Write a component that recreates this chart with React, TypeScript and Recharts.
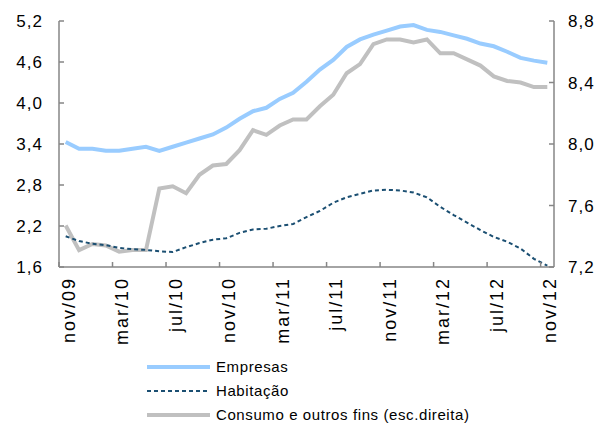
import { LineChart, Line, XAxis, YAxis } from 'recharts';

const months = [
  'nov/09', 'dez/09', 'jan/10', 'fev/10', 'mar/10', 'abr/10', 'mai/10', 'jun/10', 'jul/10', 'ago/10', 'set/10', 'out/10',
  'nov/10', 'dez/10', 'jan/11', 'fev/11', 'mar/11', 'abr/11', 'mai/11', 'jun/11', 'jul/11', 'ago/11', 'set/11', 'out/11',
  'nov/11', 'dez/11', 'jan/12', 'fev/12', 'mar/12', 'abr/12', 'mai/12', 'jun/12', 'jul/12', 'ago/12', 'set/12', 'out/12',
  'nov/12',
];

const empresas = [
  3.43, 3.33, 3.33, 3.3, 3.3, 3.33, 3.36, 3.3, 3.36, 3.42, 3.48, 3.54,
  3.64, 3.77, 3.88, 3.93, 4.06, 4.15, 4.31, 4.49, 4.63, 4.82, 4.93, 5.0,
  5.06, 5.12, 5.14, 5.07, 5.04, 4.99, 4.94, 4.87, 4.83, 4.75, 4.66, 4.62,
  4.59,
];

const habitacao = [
  2.05, 1.98, 1.94, 1.92, 1.88, 1.86, 1.85, 1.83, 1.82, 1.89, 1.95, 2.0,
  2.02, 2.1, 2.15, 2.16, 2.2, 2.23, 2.33, 2.42, 2.54, 2.62, 2.67, 2.72,
  2.73, 2.72, 2.69, 2.62, 2.48, 2.36, 2.25, 2.14, 2.04, 1.97, 1.87, 1.72,
  1.62,
];

// escala direita
const consumo = [
  7.47, 7.31, 7.35, 7.34, 7.3, 7.31, 7.31, 7.71, 7.725, 7.68, 7.8, 7.86,
  7.87, 7.96, 8.09, 8.06, 8.12, 8.16, 8.16, 8.245, 8.32, 8.46, 8.52, 8.65,
  8.68, 8.68, 8.66, 8.68, 8.59, 8.59, 8.55, 8.51, 8.44, 8.41, 8.4, 8.37,
  8.37,
];

const leftTicks = [1.6, 2.2, 2.8, 3.4, 4.0, 4.6, 5.2];
const rightTicks = [7.2, 7.6, 8.0, 8.4, 8.8];

const data = months.map((m, i) => ({
  month: m,
  empresas: empresas[i],
  habitacao: habitacao[i],
  consumo: consumo[i],
}));

const W = 600;
const H = 423;
const PLOT_LEFT = 59;
const PLOT_RIGHT = 554;
const PLOT_TOP = 21;
const PLOT_BOTTOM = 267;
const BAND = (PLOT_RIGHT - PLOT_LEFT) / months.length;

const AXIS_COLOR = '#868686';
const FONT = '"Liberation Sans", Arial, sans-serif';

const fmt = (v: number) => v.toFixed(1).replace('.', ',');

const LeftTick = (props: any) => {
  const { payload } = props;
  const y = payload.coordinate;
  return (
    <g>
      <line x1={PLOT_LEFT} x2={PLOT_LEFT + 5} y1={y} y2={y} stroke={AXIS_COLOR} strokeWidth={1.5} />
      <text x={43} y={y} dy="0.355em" textAnchor="end" fontSize={17} fill="#000" fontFamily={FONT} letterSpacing={1}>
        {fmt(payload.value)}
      </text>
    </g>
  );
};

const RightTick = (props: any) => {
  const { payload } = props;
  const y = payload.coordinate;
  return (
    <g>
      <line x1={PLOT_RIGHT - 5} x2={PLOT_RIGHT} y1={y} y2={y} stroke={AXIS_COLOR} strokeWidth={1.5} />
      <text x={568} y={y} dy="0.355em" textAnchor="start" fontSize={17} fill="#000" fontFamily={FONT} letterSpacing={1}>
        {fmt(payload.value)}
      </text>
    </g>
  );
};

const BottomTick = (props: any) => {
  const { payload } = props;
  const cx = payload.coordinate;
  const bx = cx - BAND / 2;
  const tx = cx + 9;
  const ty = 277;
  return (
    <g>
      <line x1={bx} x2={bx} y1={PLOT_BOTTOM} y2={PLOT_BOTTOM - 5} stroke={AXIS_COLOR} strokeWidth={1.5} />
      <text
        x={tx}
        y={ty}
        textAnchor="end"
        transform={`rotate(-90 ${tx} ${ty})`}
        fontSize={18}
        fill="#000"
        fontFamily={FONT}
        letterSpacing={2}
      >
        {payload.value}
      </text>
    </g>
  );
};

const legendItems = [
  { label: 'Empresas', color: '#99CCFF', width: 4, dash: undefined, y: 367 },
  { label: 'Habitação', color: '#1B4F72', width: 2, dash: '4 3', y: 391 },
  { label: 'Consumo e outros fins (esc.direita)', color: '#C0C0C0', width: 4, dash: undefined, y: 415 },
];

export default function App() {
  return (
    <div style={{ position: 'absolute', left: 0, top: 0, width: W, height: H, background: '#fff' }}>
      <LineChart
        width={W}
        height={H}
        data={data}
        margin={{ top: PLOT_TOP, right: W - PLOT_RIGHT - 46, bottom: H - PLOT_BOTTOM - 80, left: 0 }}
      >
        <XAxis
          dataKey="month"
          scale="band"
          interval={3}
          height={80}
          tickLine={false}
          axisLine={{ stroke: AXIS_COLOR, strokeWidth: 1.5 }}
          tick={<BottomTick />}
        />
        <YAxis
          yAxisId="left"
          width={PLOT_LEFT}
          domain={[1.6, 5.2]}
          ticks={leftTicks}
          tickLine={false}
          axisLine={{ stroke: AXIS_COLOR, strokeWidth: 1.5 }}
          tick={<LeftTick />}
        />
        <YAxis
          yAxisId="right"
          orientation="right"
          width={46}
          domain={[7.2, 8.8]}
          ticks={rightTicks}
          tickLine={false}
          axisLine={{ stroke: AXIS_COLOR, strokeWidth: 1.5 }}
          tick={<RightTick />}
        />
        <Line
          yAxisId="right"
          dataKey="consumo"
          type="linear"
          stroke="#C0C0C0"
          strokeWidth={4}
          dot={false}
          isAnimationActive={false}
        />
        <Line
          yAxisId="left"
          dataKey="habitacao"
          type="linear"
          stroke="#1B4F72"
          strokeWidth={2}
          strokeDasharray="4 3"
          dot={false}
          isAnimationActive={false}
        />
        <Line
          yAxisId="left"
          dataKey="empresas"
          type="linear"
          stroke="#99CCFF"
          strokeWidth={4}
          dot={false}
          isAnimationActive={false}
        />
      </LineChart>
      <svg width={W} height={H} style={{ position: 'absolute', left: 0, top: 0, pointerEvents: 'none' }}>
        {legendItems.map((it) => (
          <g key={it.label}>
            <line x1={147} x2={210} y1={it.y} y2={it.y} stroke={it.color} strokeWidth={it.width} strokeDasharray={it.dash} />
            <text x={216} y={it.y} dy="0.355em" fontSize={15} fontFamily={FONT} fill="#000" letterSpacing={0.6}>
              {it.label}
            </text>
          </g>
        ))}
      </svg>
    </div>
  );
}
